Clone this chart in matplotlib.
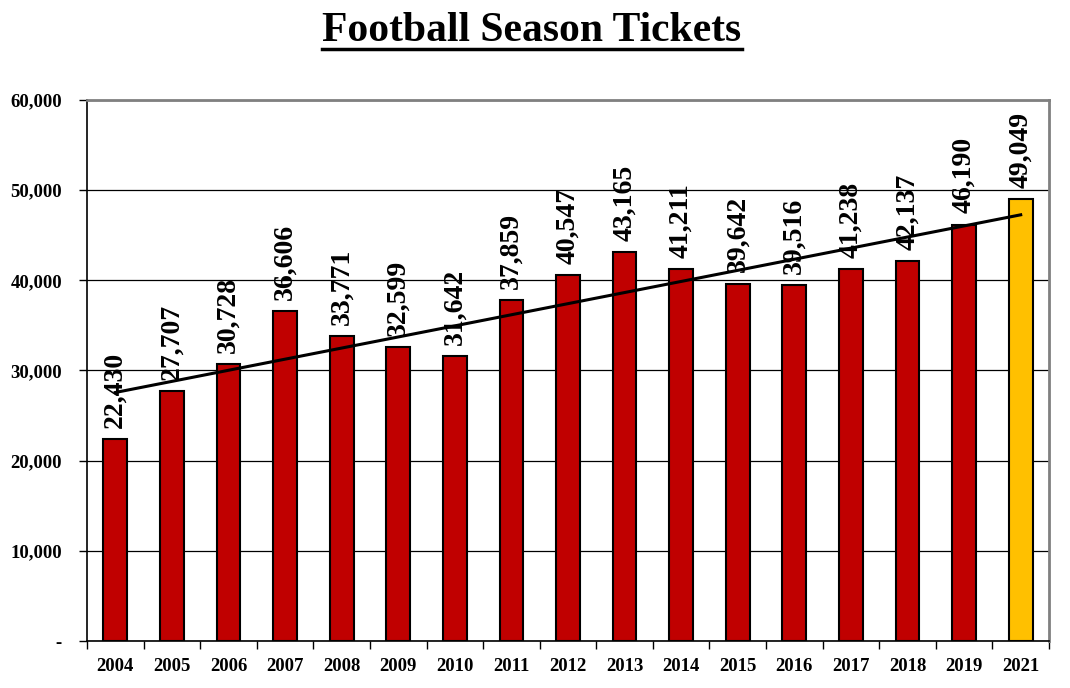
import numpy as np
import matplotlib
matplotlib.use("Agg")
import matplotlib.pyplot as plt
from matplotlib.ticker import FuncFormatter, FixedLocator

years = ["2004", "2005", "2006", "2007", "2008", "2009", "2010", "2011", "2012",
         "2013", "2014", "2015", "2016", "2017", "2018", "2019", "2021"]
tickets = [22430, 27707, 30728, 36606, 33771, 32599, 31642, 37859, 40547,
           43165, 41211, 39642, 39516, 41238, 42137, 46190, 49049]
y_ticks = [0, 10000, 20000, 30000, 40000, 50000, 60000]

plt.rcParams['font.family'] = ['Liberation Serif', 'DejaVu Serif']

fig = plt.figure(figsize=(10.7, 6.88), dpi=100)
ax = fig.add_axes([87/1070, 47/688, 962/1070, 541/688])

x = np.arange(len(years))
colors = ['#C00000'] * (len(years) - 1) + ['#FFC000']
ax.bar(x, tickets, width=0.42, color=colors, edgecolor='black', linewidth=1.5, zorder=3)

# trend line
coef = np.polyfit(x, tickets, 1)
ax.plot([x[0], x[-1]], np.polyval(coef, [x[0], x[-1]]), color='black', linewidth=2.2, zorder=4)

for xi, v in zip(x, tickets):
    ax.annotate(f"{v:,}", (xi, v), xytext=(0, 8), textcoords='offset points',
                rotation=90, ha='center', va='bottom', fontsize=20, fontweight='bold', zorder=5)

ax.set_xlim(-0.5, len(years) - 0.5)
ax.set_ylim(0, 60000)
ax.set_yticks(y_ticks)
ax.yaxis.set_major_formatter(FuncFormatter(lambda v, p: '-' if v == 0 else f"{int(v):,}"))
ax.set_xticks(x)
ax.set_xticklabels(years)
ax.xaxis.set_minor_locator(FixedLocator(np.arange(-0.5, len(years), 1.0)))
ax.tick_params(axis='x', which='major', length=0, pad=12, labelsize=13.5)
ax.tick_params(axis='x', which='minor', length=6, width=1, direction='out')
ax.tick_params(axis='y', which='major', length=6, width=1, direction='out', labelsize=13.5, pad=12)
for lbl in ax.get_xticklabels() + ax.get_yticklabels():
    lbl.set_fontweight('bold')

ax.grid(axis='y', color='black', linewidth=0.9, zorder=0)
ax.set_axisbelow(True)
ax.spines['left'].set_color('black')
ax.spines['bottom'].set_color('black')
ax.spines['left'].set_linewidth(1.2)
ax.spines['bottom'].set_linewidth(1.2)
ax.spines['top'].set_color('#808080')
ax.spines['right'].set_color('#808080')
ax.spines['top'].set_linewidth(2)
ax.spines['right'].set_linewidth(2)

t = fig.text(532/1070, 1 - 31/688, "Football Season Tickets", ha='center', va='center',
             fontsize=30, fontweight='bold')
fig.canvas.draw()
bb = t.get_window_extent()
fig.add_artist(plt.Line2D([bb.x0 / fig.bbox.width, bb.x1 / fig.bbox.width],
                          [(bb.y0 + 1) / fig.bbox.height] * 2, color='black', linewidth=2.5))

fig.savefig("out.png", dpi=100)
